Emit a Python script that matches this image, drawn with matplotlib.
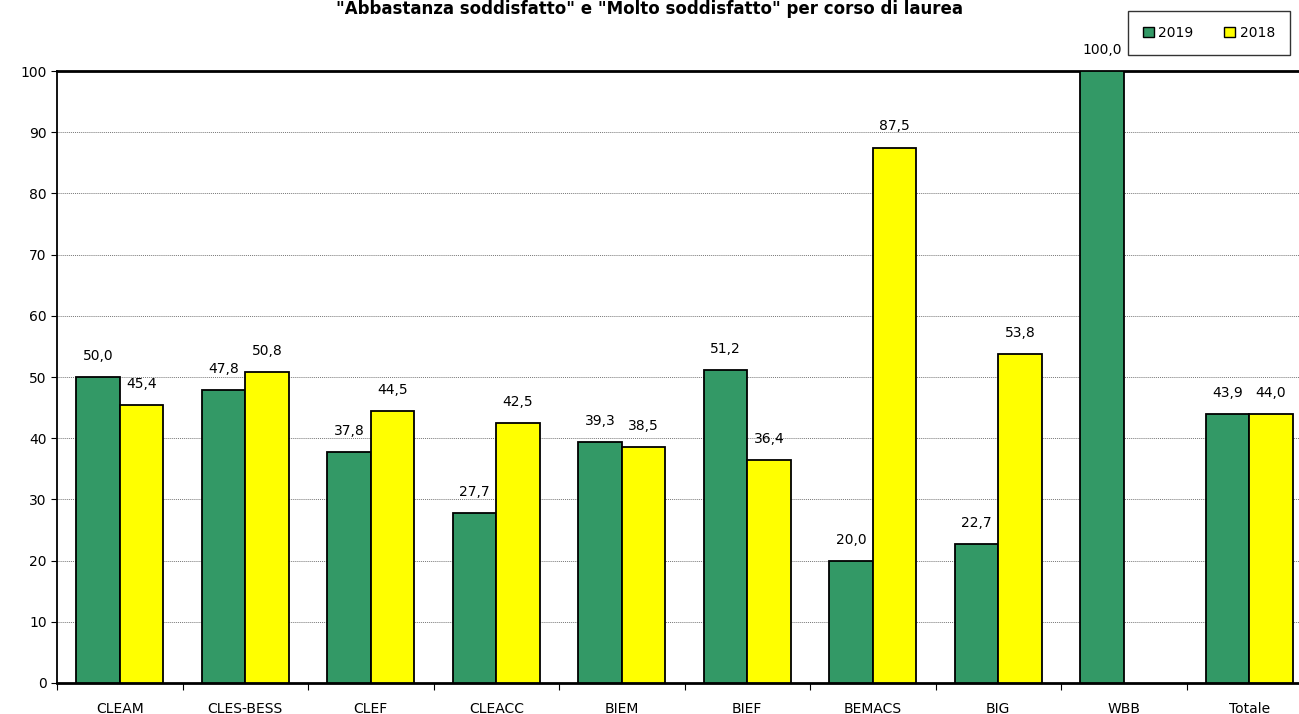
import numpy as np
import matplotlib.pyplot as plt
from matplotlib.patches import Patch

# dati
corsi = ['CLEAM', 'CLES-BESS', 'CLEF', 'CLEACC', 'BIEM', 'BIEF', 'BEMACS', 'BIG', 'WBB', 'Totale']
val_2019 = [50.0, 47.8, 37.8, 27.7, 39.3, 51.2, 20.0, 22.7, 100.0, 43.9]
val_2018 = [45.4, 50.8, 44.5, 42.5, 38.5, 36.4, 87.5, 53.8, None, 44.0]

verde = '#339966'
giallo = '#FFFF00'

plt.rcParams['font.family'] = ['DejaVu Sans']

fig = plt.figure(figsize=(12.99, 7.14), dpi=100)
ax = fig.add_axes([57 / 1299, 31 / 714, 1255 / 1299, 612 / 714])

x = np.arange(len(corsi))
w = 0.345

for i in range(len(corsi)):
    v = val_2019[i]
    ax.bar(x[i] - w / 2, v, w, color=verde, edgecolor='black', linewidth=1.3, zorder=3)
    ax.text(x[i] - w / 2, v + 2.3, f'{v:.1f}'.replace('.', ','), ha='center', va='bottom', fontsize=10)
    v = val_2018[i]
    if v is not None:
        ax.bar(x[i] + w / 2, v, w, color=giallo, edgecolor='black', linewidth=1.3, zorder=3)
        ax.text(x[i] + w / 2, v + 2.3, f'{v:.1f}'.replace('.', ','), ha='center', va='bottom', fontsize=10)

ax.set_xlim(-0.5, len(corsi) - 0.5)
ax.set_ylim(0, 100)
ax.set_yticks(range(0, 101, 10))
ax.tick_params(axis='y', labelsize=10, length=4, direction='out')

# tick x sui bordi delle categorie, etichette al centro
ax.set_xticks(x - 0.5)
ax.set_xticklabels([])
ax.set_xticks(x, minor=True)
ax.set_xticklabels(corsi, minor=True, fontsize=10)
ax.tick_params(axis='x', which='major', length=5, direction='out', pad=2)
ax.tick_params(axis='x', which='minor', length=0, pad=14)

ax.yaxis.grid(True, linestyle=(0, (1, 1)), color='#777777', linewidth=0.7, zorder=0)
ax.set_axisbelow(True)

ax.spines['right'].set_visible(False)
ax.spines['top'].set_linewidth(2)
ax.spines['bottom'].set_linewidth(2)
ax.spines['left'].set_linewidth(1.3)

fig.text(0.5, 1 - 9 / 714, '"Abbastanza soddisfatto" e "Molto soddisfatto" per corso di laurea',
         ha='center', va='center', fontsize=12, fontweight='bold')

handles = [Patch(facecolor=verde, edgecolor='black', label='2019'),
           Patch(facecolor=giallo, edgecolor='black', label='2018')]
leg = fig.legend(handles=handles, loc='center', bbox_to_anchor=(1209 / 1299, 1 - 33 / 714),
                 ncol=2, fontsize=10, frameon=True, fancybox=False, edgecolor='black',
                 handlelength=0.8, handleheight=0.8, handletextpad=0.3, columnspacing=2.2,
                 borderpad=1.1)
leg.get_frame().set_linewidth(1)

fig.savefig('out.png', dpi=100)
